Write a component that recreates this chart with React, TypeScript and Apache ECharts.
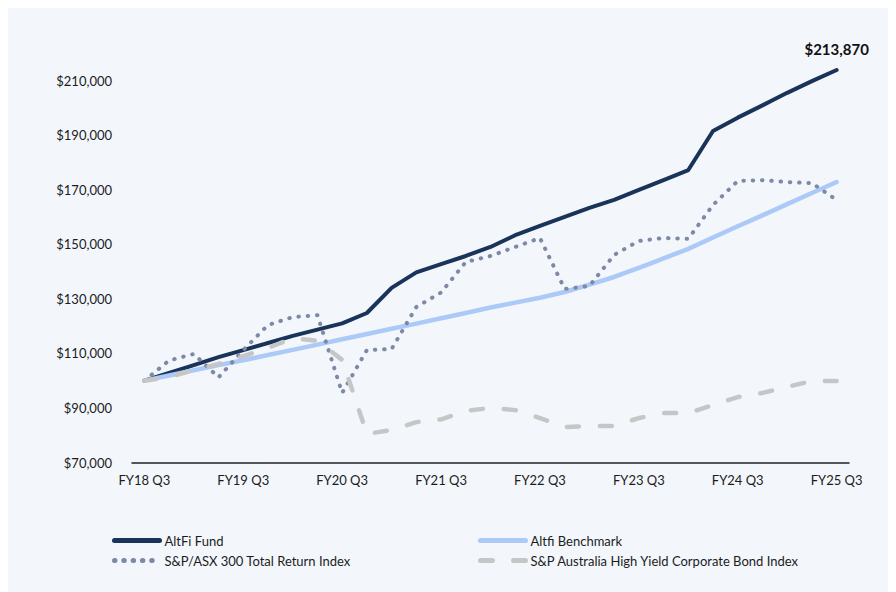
import React, { useEffect, useRef } from "react";
import * as echarts from "echarts";

const categories = [
  "FY18 Q3", "FY18 Q4", "FY19 Q1", "FY19 Q2", "FY19 Q3", "FY19 Q4", "FY20 Q1", "FY20 Q2",
  "FY20 Q3", "FY20 Q4", "FY21 Q1", "FY21 Q2", "FY21 Q3", "FY21 Q4", "FY22 Q1", "FY22 Q2",
  "FY22 Q3", "FY22 Q4", "FY23 Q1", "FY23 Q2", "FY23 Q3", "FY23 Q4", "FY24 Q1", "FY24 Q2",
  "FY24 Q3", "FY24 Q4", "FY25 Q1", "FY25 Q2", "FY25 Q3",
];

const altfiFund = [
  100000, 102800, 105700, 108600, 111200, 113800, 116400, 118700, 121000, 124800,
  134000, 139700, 142700, 145700, 149000, 153300, 156700, 160000, 163300, 166300,
  169900, 173500, 177200, 191500, 196400, 200900, 205500, 209800, 213870,
];

const altfiBenchmark = [
  100000, 101900, 103800, 105700, 107500, 109400, 111300, 113200, 115200, 117100,
  119000, 120900, 122900, 124800, 126800, 128600, 130400, 132500, 135200, 138000,
  141300, 144800, 148300, 152500, 156600, 160600, 164700, 168800, 172800,
];

const asx300 = [
  100000, 107400, 109800, 101200, 111200, 120400, 123300, 124000, 95500, 111200,
  111600, 127000, 132300, 143500, 145700, 149000, 152300, 133600, 134700, 146100,
  151200, 152300, 152000, 164400, 173200, 173500, 172800, 172400, 166200,
];

const hyBond = [
  100000, 101300, 103900, 106100, 109000, 112000, 115600, 114600, 107600, 80500,
  81900, 84800, 85800, 88900, 90000, 89200, 86300, 83000, 83400, 83400,
  86300, 88100, 88100, 91100, 94000, 95500, 97700, 99900, 99900,
];

const seriesNames = [
  "AltFi Fund",
  "Altfi Benchmark",
  "S&P/ASX 300 Total Return Index",
  "S&P Australia High Yield Corporate Bond Index",
];

const FONT = "Lato";
const TEXT = "#1c1c1c";

export default function App() {
  const ref = useRef<HTMLDivElement>(null);

  useEffect(() => {
    const chart = echarts.init(ref.current!, null, { renderer: "svg" });
    const last = altfiFund.length - 1;

    const legendCommon = {
      orient: "vertical",
      top: 521,
      padding: 5,
      itemWidth: 45,
      itemHeight: 14,
      itemGap: 7,
      itemStyle: { opacity: 0 },
      lineStyle: { width: 5 },
      textStyle: { fontSize: 13, color: TEXT, fontFamily: FONT },
    };

    chart.setOption({
      animation: false,
      backgroundColor: "#f3f7fc",
      textStyle: { fontFamily: FONT },
      grid: { left: 124, right: 39, top: 18, bottom: 129.5, containLabel: false },
      xAxis: {
        type: "category",
        data: categories,
        boundaryGap: true,
        axisLine: { show: true, lineStyle: { color: "#222222", width: 1.5 } },
        axisTick: { show: false },
        axisLabel: {
          interval: 3,
          margin: 11,
          fontSize: 13,
          color: TEXT,
          fontFamily: FONT,
        },
        splitLine: { show: false },
      },
      yAxis: {
        type: "value",
        min: 70000,
        max: 230000,
        interval: 20000,
        axisLine: { show: false },
        axisTick: { show: false },
        splitLine: { show: false },
        axisLabel: {
          margin: 20,
          fontSize: 13,
          color: TEXT,
          fontFamily: FONT,
          showMaxLabel: false,
          formatter: (v: number) => "$" + v.toLocaleString("en-US"),
        },
      },
      legend: [
        { ...legendCommon, left: 99, data: [seriesNames[0], seriesNames[2]] },
        { ...legendCommon, left: 465, data: [seriesNames[1], seriesNames[3]] },
      ],
      series: [
        {
          name: seriesNames[0],
          type: "line",
          data: altfiFund,
          symbol: "none",
          showSymbol: false,
          color: "#1a3459",
          lineStyle: { color: "#1a3459", width: 4, cap: "round", join: "round" },
          z: 2,
          markPoint: {
            symbol: "circle",
            symbolSize: 0,
            silent: true,
            data: [
              {
                coord: [last, altfiFund[last]],
                value: altfiFund[last],
              },
            ],
            label: {
              show: true,
              position: "top",
              distance: 14,
              formatter: (p: any) => "$" + Number(p.value).toLocaleString("en-US"),
              fontFamily: FONT,
              fontWeight: "bold",
              fontSize: 15,
              color: "#111111",
            },
          },
        },
        {
          name: seriesNames[1],
          type: "line",
          data: altfiBenchmark,
          symbol: "none",
          showSymbol: false,
          color: "#abcaf7",
          lineStyle: { color: "#abcaf7", width: 4.5, cap: "round", join: "round" },
          z: 3,
        },
        {
          name: seriesNames[2],
          type: "line",
          data: asx300,
          symbol: "none",
          showSymbol: false,
          color: "#7d89a6",
          lineStyle: {
            color: "#7d89a6",
            width: 4,
            type: [0.5, 8.8],
            cap: "round",
            join: "round",
          },
          z: 4,
        },
        {
          name: seriesNames[3],
          type: "line",
          data: hyBond,
          symbol: "none",
          showSymbol: false,
          color: "#c6c6c6",
          lineStyle: {
            color: "#c6c6c6",
            width: 4.5,
            type: [12, 21],
            cap: "round",
            join: "round",
          },
          z: 5,
        },
      ],
    });
    return () => chart.dispose();
  }, []);

  return (
    <div
      ref={ref}
      style={{
        position: "fixed",
        left: 8,
        top: 8,
        width: 880,
        height: 584,
        background: "#f3f7fc",
      }}
    />
  );
}
